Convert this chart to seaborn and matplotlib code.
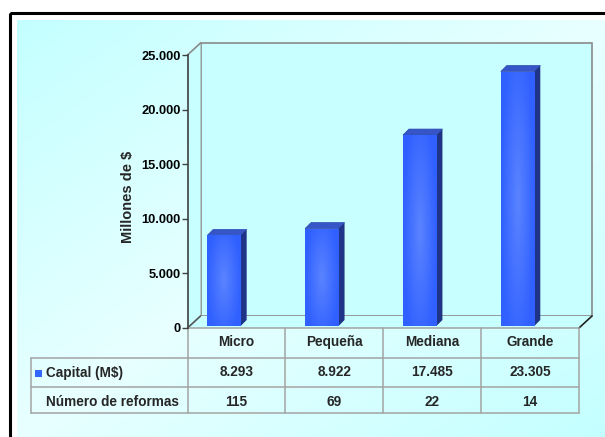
import numpy as np
import matplotlib
matplotlib.use("Agg")
import matplotlib.pyplot as plt
from matplotlib.patches import Rectangle, Polygon
from matplotlib.transforms import blended_transform_factory
import seaborn as sns

# Data
categories = ["Micro", "Pequeña", "Mediana", "Grande"]
capital = [8293, 8922, 17485, 23305]
capital_labels = ["8.293", "8.922", "17.485", "23.305"]
reformas = [115, 69, 22, 14]
row_labels = ["Capital (M$)", "Número de reformas"]
y_ticks = [0, 5000, 10000, 15000, 20000, 25000]
y_tick_labels = ["0", "5.000", "10.000", "15.000", "20.000", "25.000"]

sns.set_theme(style="white")
plt.rcParams["font.family"] = ["Liberation Sans", "DejaVu Sans"]
plt.rcParams["font.weight"] = "bold"

W, H = 605, 437
fig = plt.figure(figsize=(W / 100, H / 100), dpi=100)
fig.patch.set_facecolor("white")

# Pixel-space background axes
bg = fig.add_axes([0, 0, 1, 1], zorder=0)
bg.set_xlim(0, W)
bg.set_ylim(H, 0)
bg.axis("off")

# Diagonal mirrored gradient panel
gx, gy = np.meshgrid(np.linspace(0, 1, 300), np.linspace(0, 1, 220))
t = np.abs((gx + gy) / 2 - 0.5) * 2  # 1 at corners TL/BR, 0 along the anti-diagonal
light = np.array([232, 255, 255]) / 255
cyan = np.array([196, 255, 255]) / 255
grad = light[None, None, :] * (1 - t[..., None]) + cyan[None, None, :] * t[..., None]
bg.imshow(grad, extent=(17, W, H, 20), aspect="auto", zorder=0, interpolation="bilinear")
bg.add_patch(Rectangle((9.5, 12.5), 700, 500, fill=False, lw=2.2, ec="black", zorder=1))

# Front plane axes (value axis)
x_left, x_right, y_top, y_base = 187.5, 579.0, 55.0, 328.0
ax = fig.add_axes([x_left / W, 1 - y_base / H, (x_right - x_left) / W, (y_base - y_top) / H],
                  zorder=2)
ax.patch.set_alpha(0)

sns.barplot(x=categories, y=capital, ax=ax, width=0.342, color="#3366ff",
            saturation=1, edgecolor="none", linewidth=0)
ax.set_xlim(-0.5, 3.5)
ax.set_ylim(0, 25000)
ax.set_yticks(y_ticks)
ax.set_yticklabels(y_tick_labels, fontsize=9.3, fontweight="bold", color="black")
ax.set_xticks([])
ax.set_xlabel("")
for s in ["top", "right", "bottom"]:
    ax.spines[s].set_visible(False)
ax.spines["left"].set_color("#404040")
ax.spines["left"].set_linewidth(1.2)
ax.tick_params(axis="y", direction="out", length=4, width=1, color="#404040", pad=1, left=True)
ax.set_ylabel("Millones de $", fontsize=10.5, fontweight="bold")
ax.yaxis.set_label_coords(-0.135, 0.48)

# depth offset of the 3D box (pixels)
DX, DY = 13, 12

def to_px(disp):
    return bg.transData.inverted().transform(disp)

# Walls and floor
p_tl = to_px(ax.transAxes.transform((0, 1)))
p_bl = to_px(ax.transAxes.transform((0, 0)))
p_br = to_px(ax.transAxes.transform((1, 0)))
wall_c = "#c8ffff"
edge_c = "#8a8a8a"
back = [(p_tl[0] + DX, p_tl[1] - DY), (p_br[0] + DX, p_tl[1] - DY),
        (p_br[0] + DX, p_bl[1] - DY), (p_bl[0] + DX, p_bl[1] - DY)]
bg.add_patch(Polygon(back, closed=True, fc=wall_c, ec=edge_c, lw=1.2, zorder=2))
side = [tuple(p_tl), (p_tl[0] + DX, p_tl[1] - DY), (p_bl[0] + DX, p_bl[1] - DY), tuple(p_bl)]
bg.add_patch(Polygon(side, closed=True, fc=wall_c, ec="none", zorder=2))
bg.plot([p_tl[0], p_tl[0] + DX], [p_tl[1], p_tl[1] - DY], color=edge_c, lw=1.2, zorder=3)
floor = [tuple(p_bl), (p_bl[0] + DX, p_bl[1] - DY), (p_br[0] + DX, p_br[1] - DY), tuple(p_br)]
bg.add_patch(Polygon(floor, closed=True, fc=wall_c, ec="none", zorder=2))
bg.plot([p_bl[0], p_bl[0] + DX], [p_bl[1], p_bl[1] - DY], color="#555555", lw=1.2, zorder=3)
bg.plot([p_br[0], p_br[0] + DX], [p_br[1], p_br[1] - DY], color="#222222", lw=1.2, zorder=3)

# 3D columns: shift front faces slightly into depth, add shading, top and side faces
units_per_px_x = 4.0 / (x_right - x_left)
units_per_px_y = 25000 / (y_base - y_top)
shift_x = -12.5 * units_per_px_x
shift_y = 2 * units_per_px_y
bd, bh = 6, 6  # column depth in pixels
gxx, gyy = np.meshgrid(np.linspace(-1, 1, 60), np.linspace(-1, 1, 200))
glow = np.clip(1 - np.sqrt((gxx / 1.0) ** 2 + (gyy / 1.3) ** 2), 0, 1)
c_edge = np.array([0x30, 0x60, 0xff]) / 255
c_mid = np.array([0x5a, 0x84, 0xff]) / 255
shade = c_edge[None, None, :] * (1 - glow[..., None]) + c_mid[None, None, :] * glow[..., None]

for patch in list(ax.patches):
    x0 = patch.get_x() + shift_x
    w = patch.get_width()
    h = patch.get_height()
    patch.set_x(x0)
    patch.set_y(shift_y)
    im = ax.imshow(shade, extent=(x0, x0 + w, shift_y, shift_y + h), aspect="auto",
                   zorder=patch.get_zorder() + 0.1, interpolation="bilinear")
    im.set_clip_path(patch)
    a = to_px(ax.transData.transform((x0, shift_y + h)))
    b = to_px(ax.transData.transform((x0 + w, shift_y + h)))
    c = to_px(ax.transData.transform((x0 + w, shift_y)))
    top = [tuple(a), (a[0] + bd, a[1] - bh), (b[0] + bd, b[1] - bh), tuple(b)]
    sidef = [tuple(b), (b[0] + bd, b[1] - bh), (c[0] + bd, c[1] - bh), tuple(c)]
    bg.add_patch(Polygon(top, closed=True, fc="#3656c8", ec="#2a46b0", lw=0.5, zorder=4))
    bg.add_patch(Polygon(sidef, closed=True, fc="#1f3486", ec="none", zorder=4))
ax.set_xlim(-0.5, 3.5)
ax.set_ylim(0, 25000)

# Data table below the plot
line_c = "#a3a3a3"
tb = blended_transform_factory(ax.transData, bg.transData)
row_tops = [328, 358, 387, 413]
bounds = [to_px(ax.transData.transform((i - 0.5, 0)))[0] for i in range(len(categories) + 1)]
label_left = 31
for yb in row_tops:
    x_start = bounds[0] if yb == row_tops[0] else label_left
    bg.plot([x_start, bounds[-1]], [yb, yb], color=line_c, lw=1.1, zorder=5)
for xb in bounds:
    bg.plot([xb, xb], [row_tops[0], row_tops[-1]], color=line_c, lw=1.1, zorder=5)
bg.plot([label_left, label_left], [row_tops[1], row_tops[-1]], color=line_c, lw=1.1, zorder=5)

fs = 9.8
for i, cat in enumerate(categories):
    ax.text(i, 342, cat, transform=tb, ha="center", va="center", fontsize=fs,
            fontweight="bold", clip_on=False)
    ax.text(i, 372.5, capital_labels[i], transform=tb, ha="center", va="center",
            fontsize=fs, fontweight="bold", clip_on=False)
    ax.text(i, 401.5, str(reformas[i]), transform=tb, ha="center", va="center",
            fontsize=fs, fontweight="bold", clip_on=False)

bg.add_patch(Rectangle((35, 369.5), 7, 7.5, fc="#3366ff", ec="none", zorder=6))
bg.text(46, 372.5, row_labels[0], ha="left", va="center", fontsize=fs, fontweight="bold", zorder=6)
bg.text(46, 401.5, row_labels[1], ha="left", va="center", fontsize=fs, fontweight="bold", zorder=6)

fig.savefig("out.png", dpi=100, facecolor="white")
